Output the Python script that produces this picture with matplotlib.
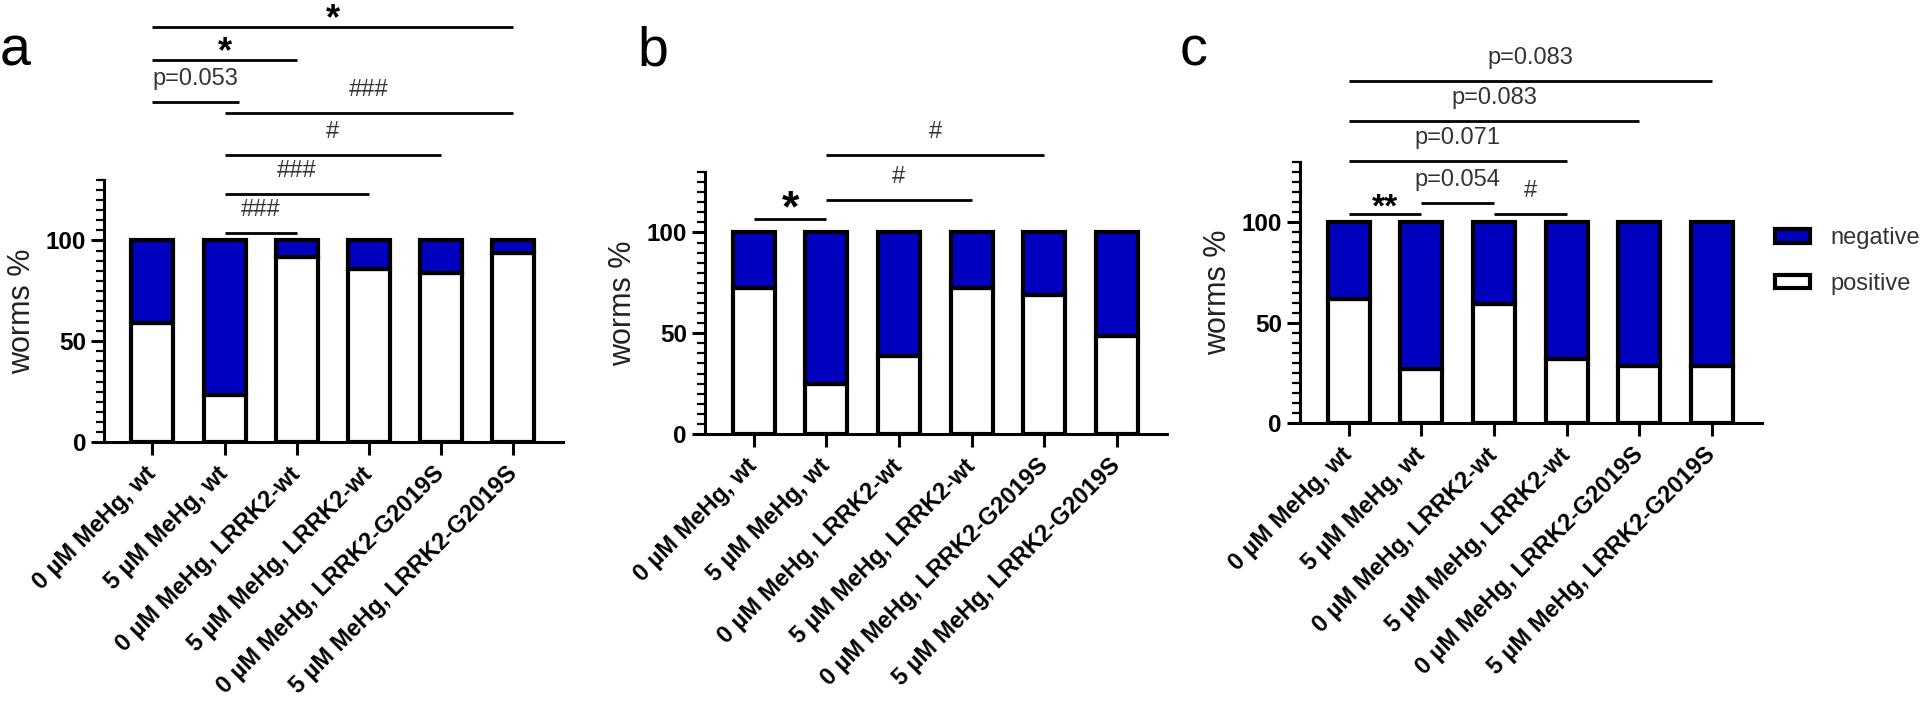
import matplotlib
matplotlib.use("Agg")
import matplotlib.pyplot as plt
from matplotlib.ticker import MultipleLocator

plt.rcParams['font.family'] = ['Liberation Sans', 'DejaVu Sans']

groups = ["0 µM MeHg, wt", "5 µM MeHg, wt", "0 µM MeHg, LRRK2-wt",
          "5 µM MeHg, LRRK2-wt", "0 µM MeHg, LRRK2-G2019S", "5 µM MeHg, LRRK2-G2019S"]

pos_a = [59, 23.5, 92, 86, 84, 94]
neg_a = [41, 76.5, 8, 14, 16, 6]
pos_b = [72.5, 25, 38.5, 72.5, 69, 48.5]
neg_b = [27.5, 75, 61.5, 27.5, 31, 51.5]
pos_c = [62, 27, 59.5, 32, 28.5, 28.5]
neg_c = [38, 73, 40.5, 68, 71.5, 71.5]

# comparisons: (from group, to group, line level, label)
comp_a = [(0, 5, 206, '*'), (0, 2, 189.5, '*'), (0, 1.2, 168.5, 'p=0.053'),
          (1, 5, 163, '###'), (1, 4, 142.5, '#'), (1, 3, 123, '###'), (1, 2, 103.5, '###')]
comp_b = [(0, 1, 106.5, '*'), (1, 3, 116, '#'), (1, 4, 138.5, '#')]
comp_c = [(0, 5, 170.5, 'p=0.083'), (0, 4, 150.5, 'p=0.083'), (0, 3, 130.5, 'p=0.071'),
          (0, 1, 104, '**'), (1, 2, 109.5, 'p=0.054'), (2, 3, 104, '#')]

blue = '#0000BF'
fig = plt.figure(figsize=(19.2, 7.1), dpi=100)

rects = [[0.0542, 0.3775, 0.2391, 0.369],
         [0.3672, 0.3887, 0.2406, 0.369],
         [0.6771, 0.4042, 0.2406, 0.3676]]
panels = [(pos_a, neg_a, comp_a, 26), (pos_b, neg_b, comp_b, 32), (pos_c, neg_c, comp_c, 24)]
letters = [('a', 0.0), ('b', 0.332), ('c', 0.6146)]

x = list(range(len(groups)))
for rect, (pos, neg, comps, starsize), (letter, lx) in zip(rects, panels, letters):
    ax = fig.add_axes(rect)
    b1 = ax.bar(x, pos, width=0.58, color='white', edgecolor='black', linewidth=3, label='positive')
    b2 = ax.bar(x, neg, bottom=pos, width=0.58, color=blue, edgecolor='black', linewidth=3, label='negative')
    ax.set_xlim(-0.67, 5.69)
    ax.set_ylim(0, 130)
    ax.set_yticks([0, 50, 100])
    ax.yaxis.set_minor_locator(MultipleLocator(5))
    for s in ['top', 'right']:
        ax.spines[s].set_visible(False)
    for s in ['left', 'bottom']:
        ax.spines[s].set_linewidth(2.2)
    ax.tick_params(axis='both', which='major', length=9.5, width=2.2, pad=3.5)
    ax.tick_params(axis='x', which='major', pad=11)
    ax.tick_params(axis='y', which='minor', length=5.5, width=1.6)
    ax.tick_params(axis='x', which='minor', bottom=False)
    for t in ax.get_yticklabels():
        t.set_fontsize(17.5)
        t.set_fontweight('bold')
    ax.set_xticks(x)
    ax.set_xticklabels(groups)
    for t in ax.get_xticklabels():
        t.set_fontsize(17)
        t.set_fontweight('bold')
        t.set_rotation(45)
        t.set_ha('right')
        t.set_va('center')
        t.set_rotation_mode('anchor')
    ax.set_ylabel('worms %', fontsize=22, color='#222222', va='center')
    ax.yaxis.set_label_coords(-0.178, 0.5)

    for i, j, lvl, lab in comps:
        ax.plot([i, j], [lvl, lvl], color='black', lw=2, clip_on=False, solid_capstyle='butt')
        xc = (i + j) / 2
        if lab.startswith('*'):
            ax.text(xc, lvl - 1, lab, ha='center', va='baseline', fontsize=starsize,
                    fontweight='bold', color='black', clip_on=False)
        else:
            ax.text(xc, lvl + 11.5, lab, ha='center', va='center', fontsize=17,
                    color='#333333', clip_on=False)

    fig.text(lx, 0.908, letter, fontsize=40, ha='left', va='baseline')

leg = ax.legend(handles=[b2, b1], labels=['negative', 'positive'], loc='upper left',
                bbox_to_anchor=(0.9245, 0.680), bbox_transform=fig.transFigure,
                frameon=False, borderaxespad=0, borderpad=0, fontsize=17,
                handlelength=1.5, handleheight=0.5, handletextpad=0.85, labelspacing=1.0)
for t in leg.get_texts():
    t.set_color('#333333')

fig.savefig('out.png', dpi=100)
